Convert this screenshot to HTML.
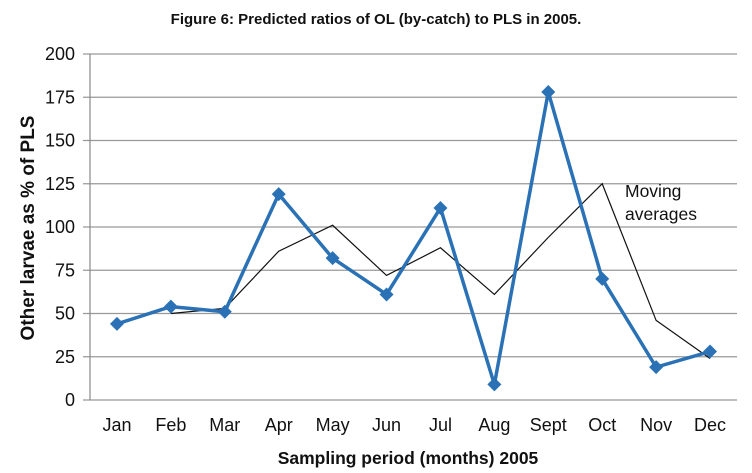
<!DOCTYPE html>
<html><head><meta charset="utf-8"><style>
body{margin:0;background:#fff;}
svg{display:block;font-family:"Liberation Sans",sans-serif;}
</style></head><body>
<svg width="752" height="473">
<text x="376" y="24" text-anchor="middle" font-size="15" font-weight="bold" fill="#111">Figure 6: Predicted ratios of OL (by-catch) to PLS in 2005.</text>
<g id="grid"></g>
<g id="yt"></g>
<g id="xt"></g>
<line x1="90" y1="54" x2="90" y2="400" stroke="#888" stroke-width="1.2"/>
<g id="series"></g>
<text x="625" y="197" font-size="17.5" fill="#111">Moving</text>
<text x="625" y="220" font-size="17.5" fill="#111">averages</text>
<text transform="translate(34,228) rotate(-90)" text-anchor="middle" font-size="19" font-weight="bold" fill="#111">Other larvae as % of PLS</text>
<text x="408" y="464" text-anchor="middle" font-size="17.5" font-weight="bold" fill="#111">Sampling period (months) 2005</text>
</svg>
<script>
const months=["Jan","Feb","Mar","Apr","May","Jun","Jul","Aug","Sept","Oct","Nov","Dec"];
const ratios=[44,54,51,119,82,61,111,9,178,70,19,28];
const movingAvg=[null,50,53,86,101,72,88,61,94,125,46,24];
const yTicks=[0,25,50,75,100,125,150,175,200];
const NS="http://www.w3.org/2000/svg";
const L=90,R=737,T=54,B=400;
const y=v=>B-(v/200)*(B-T);
const x=i=>L+(i+0.5)*(R-L)/months.length;
function mk(t,a,p){const e=document.createElementNS(NS,t);for(const k in a)e.setAttribute(k,a[k]);p.appendChild(e);return e;}
const g=document.getElementById('grid'),yt=document.getElementById('yt'),xt=document.getElementById('xt'),s=document.getElementById('series');
yTicks.forEach(v=>{const l=mk('line',{x1:83,x2:R,y1:y(v),y2:y(v),stroke:'#999','stroke-width':1.2},g);


const t=mk('text',{x:75,y:y(v)+6,'text-anchor':'end','font-size':18,fill:'#111'},yt);t.textContent=v;

});
months.forEach((m,i)=>{const t=mk('text',{x:x(i),y:431,'text-anchor':'middle','font-size':18,fill:'#111'},xt);t.textContent=m;

});
const ma=movingAvg.map((v,i)=>v==null?null:x(i)+','+y(v)).filter(p=>p).join(' ');
const pl=mk('polyline',{points:ma,fill:'none',stroke:'#111','stroke-width':1.2},s);


const bl=mk('polyline',{points:ratios.map((v,i)=>x(i)+','+y(v)).join(' '),fill:'none',stroke:'#2a72b5','stroke-width':3.5,'stroke-linejoin':'round'},s);


ratios.forEach((v,i)=>{const cx=x(i),cy=y(v),d=7;
const p=mk('polygon',{points:`${cx},${cy-d} ${cx+d},${cy} ${cx},${cy+d} ${cx-d},${cy}`,fill:'#2a72b5'},s);

});
</script>
</body></html>
